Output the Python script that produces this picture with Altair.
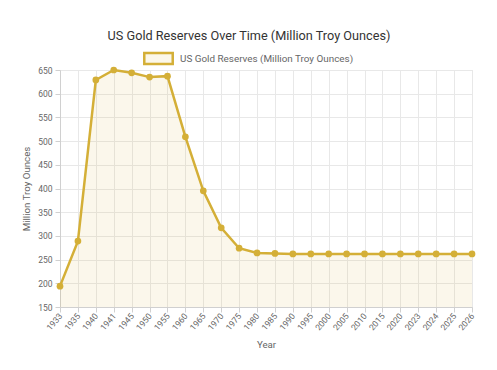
import altair as alt
import pandas as pd

years = ["1933", "1935", "1940", "1941", "1945", "1950", "1955", "1960", "1965", "1970",
         "1975", "1980", "1985", "1990", "1995", "2000", "2005", "2010", "2015", "2020",
         "2023", "2024", "2025", "2026"]
reserves = [194, 289, 629, 650, 644, 635, 637, 509, 395, 317,
            274, 264, 263, 262, 262, 262, 262, 262, 262, 262,
            262, 262, 262, 262]
series_name = "US Gold Reserves (Million Troy Ounces)"

df = pd.DataFrame({"Year": years, "Reserves": reserves, "Series": series_name})

GOLD = "#D4AF37"
FONT = "Roboto"

x = alt.X("Year:O", sort=None, title="Year",
          scale=alt.Scale(type="point", padding=0),
          axis=alt.Axis(labelAngle=-50, labelAlign="right", labelBaseline="middle",
                        labelFontSize=8.5, labelColor="#666", titleColor="#666",
                        titleFontSize=9.7, titleFontWeight="normal", titlePadding=8,
                        grid=True, gridColor="#e8e8e8", domainColor="#d0d0d0",
                        tickColor="#d0d0d0", tickSize=5, labelPadding=2))
y = alt.Y("Reserves:Q", title="Million Troy Ounces",
          scale=alt.Scale(domain=[150, 650], zero=False, nice=False),
          axis=alt.Axis(values=list(range(150, 651, 50)), labelFontSize=8.5,
                        labelColor="#666", titleColor="#666", titleFontSize=9.7,
                        titleFontWeight="normal", titlePadding=6,
                        gridColor="#e8e8e8", domainColor="#d0d0d0",
                        tickColor="#d0d0d0", tickSize=5, labelPadding=3))

base = alt.Chart(df)

area = base.mark_area(color=GOLD, opacity=0.1).encode(x=x, y=y, y2=alt.datum(150))
line = base.mark_line(strokeWidth=2.5).encode(
    x=x, y=y,
    color=alt.Color("Series:N", scale=alt.Scale(range=[GOLD]),
                    legend=alt.Legend(title=None, orient="none", legendX=83, legendY=-27,
                                      symbolType="M-1,-0.38H1V0.38H-1Z", symbolSize=810,
                                      symbolFillColor="#fbf7e9", symbolStrokeColor=GOLD,
                                      symbolStrokeWidth=2.5, symbolOpacity=1,
                                      labelFontSize=9.9, labelColor="#666", labelFont=FONT,
                                      labelLimit=400, labelOffset=6)))
pts = base.mark_circle(color=GOLD, size=45, opacity=1).encode(x=x, y=y)

chart = alt.layer(area, line, pts).properties(
    width=412, height=237,
    autosize=alt.AutoSizeParams(type="none"),
    padding={"left": 60, "top": 70, "right": 25, "bottom": 63},
    title=alt.TitleParams("US Gold Reserves Over Time (Million Troy Ounces)",
                          fontSize=12.7, font=FONT, color="#333", fontWeight="normal",
                          anchor="middle", offset=6, dy=6, dx=-17),
).configure_view(stroke=None).configure(font=FONT)

chart.save("out.html", embed_options={"renderer": "svg", "actions": False})
